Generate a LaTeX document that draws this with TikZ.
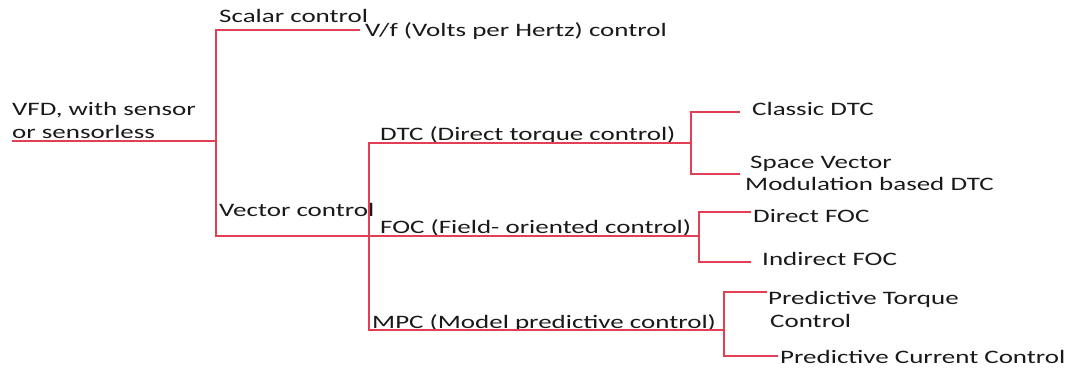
\documentclass[tikz,border=0pt]{standalone}
\usepackage{fontspec}
\setmainfont{Carlito}[FakeStretch=1.42]
\definecolor{lnc}{RGB}{226,62,84}
\definecolor{tx}{RGB}{25,25,25}
\begin{document}
\begin{tikzpicture}[x=1pt,y=-1pt,
  lbl/.style={anchor=base west, inner sep=0pt, text=tx, font=\fontsize{19}{21}\selectfont},
  ln/.style={draw=lnc, line width=1.2pt}]
\useasboundingbox (0,0) rectangle (1068,367);
% texts
\node[lbl] (root1) at (12,115) {VFD, with sensor};
\node[lbl] (root2) at (12,138) {or sensorless};
\node[lbl] (scal) at (219,22) {Scalar control};
\node[lbl] (vf) at (365,36) {V/f (Volts per Hertz) control};
\node[lbl] (vec) at (219,216) {Vector control};
\node[lbl] (dtc) at (380,140) {DTC (Direct torque control)};
\node[lbl] (foc) at (380,233) {FOC (Field- oriented control)};
\node[lbl] (mpc) at (372,328) {MPC (Model predictive control)};
\node[lbl] (cdtc) at (752,115) {Classic DTC};
\node[lbl] (sv1) at (750,168) {Space Vector};
\node[lbl] (sv2) at (745,190) {Modulation based DTC};
\node[lbl] (dfoc) at (753,222) {Direct FOC};
\node[lbl] (ifoc) at (762,265) {Indirect FOC};
\node[lbl] (ptc1) at (768,304) {Predictive Torque};
\node[lbl] (ptc2) at (770,327) {Control};
\node[lbl] (pcc) at (780,363) {Predictive Current Control};
% junction coordinates
\coordinate (r0) at (12,141);
\coordinate (j1) at (216,141);
\coordinate (j1t) at (216,30);
\coordinate (j1b) at (216,236);
\coordinate (scE) at (360,30);
\coordinate (j2m) at (369,236);
\coordinate (j2t) at (369,143);
\coordinate (j2b) at (369,330);
\coordinate (dtcE) at (691,143);
\coordinate (focE) at (699,236);
\coordinate (mpcE) at (724,330);
\coordinate (k1t) at (691,112);
\coordinate (k1b) at (691,174);
\coordinate (c1) at (740,112);
\coordinate (c2) at (740,174);
\coordinate (k2t) at (699,212);
\coordinate (k2b) at (699,262);
\coordinate (d1) at (751,212);
\coordinate (d2) at (751,262);
\coordinate (k3t) at (724,292);
\coordinate (k3b) at (724,356);
\coordinate (p1) at (767,292);
\coordinate (p2) at (778,356);
% connectors
\draw[ln] (r0) -- (j1);
\draw[ln] (scE) -- (j1t) -- (j1b) -- (j2m);
\draw[ln] (dtcE) -- (j2t) -- (j2b) -- (mpcE);
\draw[ln] (j2m) -- (focE);
\draw[ln] (c1) -- (k1t) -- (k1b) -- (c2);
\draw[ln] (d1) -- (k2t) -- (k2b) -- (d2);
\draw[ln] (p1) -- (k3t) -- (k3b) -- (p2);
\end{tikzpicture}
\end{document}
